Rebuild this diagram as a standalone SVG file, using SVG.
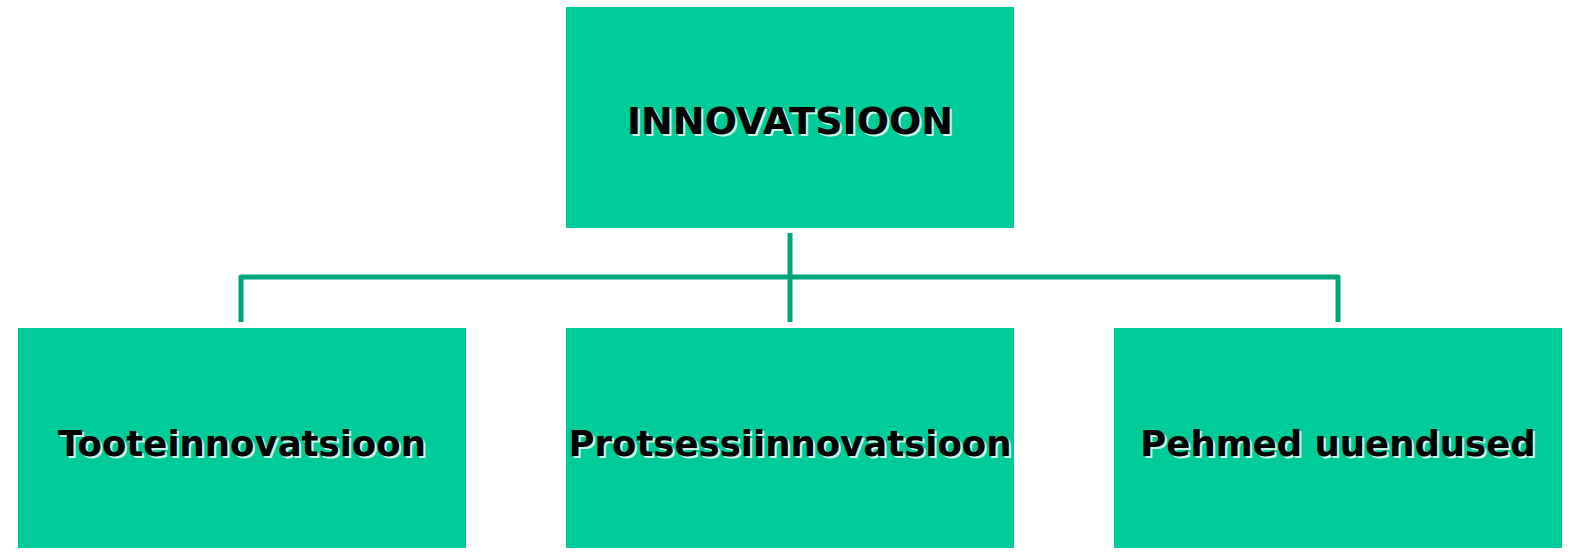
<svg xmlns="http://www.w3.org/2000/svg" width="1584" height="553" viewBox="0 0 1584 553">
<style>
.box{fill:#00cc99}
.t{font-family:"DejaVu Sans",Verdana,sans-serif;font-weight:bold;font-size:35.5px;text-anchor:middle}
.r{font-size:38px}
.sh{fill:#c8f5e6}
.fg{fill:#000}
.c{fill:none;stroke:#00a57a;stroke-width:5;stroke-linejoin:round}
</style>
<rect width="1584" height="553" fill="#fff"/>
<g id="connectors">
<path class="c" d="M790 233V322"/>
<path class="c" d="M241 322V277H1338V322"/>
</g>
<g id="n-root">
<rect class="box" x="566" y="7" width="448" height="221"/>
<text class="t r sh" x="792" y="136">INNOVATSIOON</text>
<text class="t r fg" x="790" y="134">INNOVATSIOON</text>
</g>
<g id="n-toote">
<rect class="box" x="18" y="328" width="448" height="220"/>
<text class="t sh" x="244" y="458">Tooteinnovatsioon</text>
<text class="t fg" x="242" y="456">Tooteinnovatsioon</text>
</g>
<g id="n-protsess">
<rect class="box" x="566" y="328" width="448" height="220"/>
<text class="t sh" x="792" y="458">Protsessiinnovatsioon</text>
<text class="t fg" x="790" y="456">Protsessiinnovatsioon</text>
</g>
<g id="n-pehmed">
<rect class="box" x="1114" y="328" width="448" height="220"/>
<text class="t sh" x="1340" y="458">Pehmed uuendused</text>
<text class="t fg" x="1338" y="456">Pehmed uuendused</text>
</g>
</svg>
